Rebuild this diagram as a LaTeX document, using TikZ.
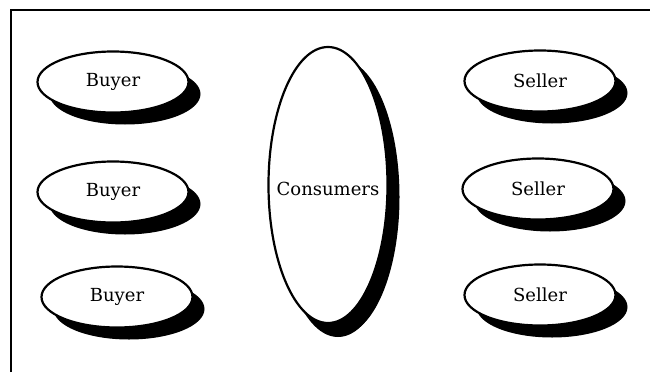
\documentclass[tikz,border=0pt]{standalone}
\usepackage{fontspec}
\setmainfont{DejaVu Serif}
\usetikzlibrary{shapes.geometric,shadows}
\begin{document}
\begin{tikzpicture}[x=1pt,y=-1pt,
  party/.style={ellipse, draw=black, line width=2.2pt, fill=white, inner sep=0pt,
    minimum width=151pt, minimum height=61pt, text=black,
    font=\fontsize{18}{21}\selectfont,
    drop shadow={shadow xshift=12pt, shadow yshift=-12pt, fill=black, opacity=1}},
  market/.style={party, minimum width=119pt, minimum height=276pt,
    drop shadow={shadow xshift=10pt, shadow yshift=-14pt, fill=black, opacity=1}},
  caption/.style={inner sep=0pt, text=black, font=\fontsize{18}{21}\selectfont},
  frame/.style={line width=2.6pt}]
\useasboundingbox (0,0) rectangle (650,372);

% open frame: top and left edges only
\draw[frame] (11,372) -- (11,10) -- (650,10);

% buyers
\node[party] (b1) at (113,82)  {Buyer};
\node[party] (b2) at (113,192) {Buyer};
\node[party] (b3) at (117,297) {Buyer};

% the market in the middle; its caption is set on top so the
% ellipse keeps its own size
\node[market] (c) at (328,185) {};
\node[caption] (ct) at ([yshift=-4pt]c.center) {Consumers};

% sellers
\node[party] (s1) at (540,81)  {Seller};
\node[party] (s2) at (538,189) {Seller};
\node[party] (s3) at (540,295) {Seller};
\end{tikzpicture}
\end{document}
